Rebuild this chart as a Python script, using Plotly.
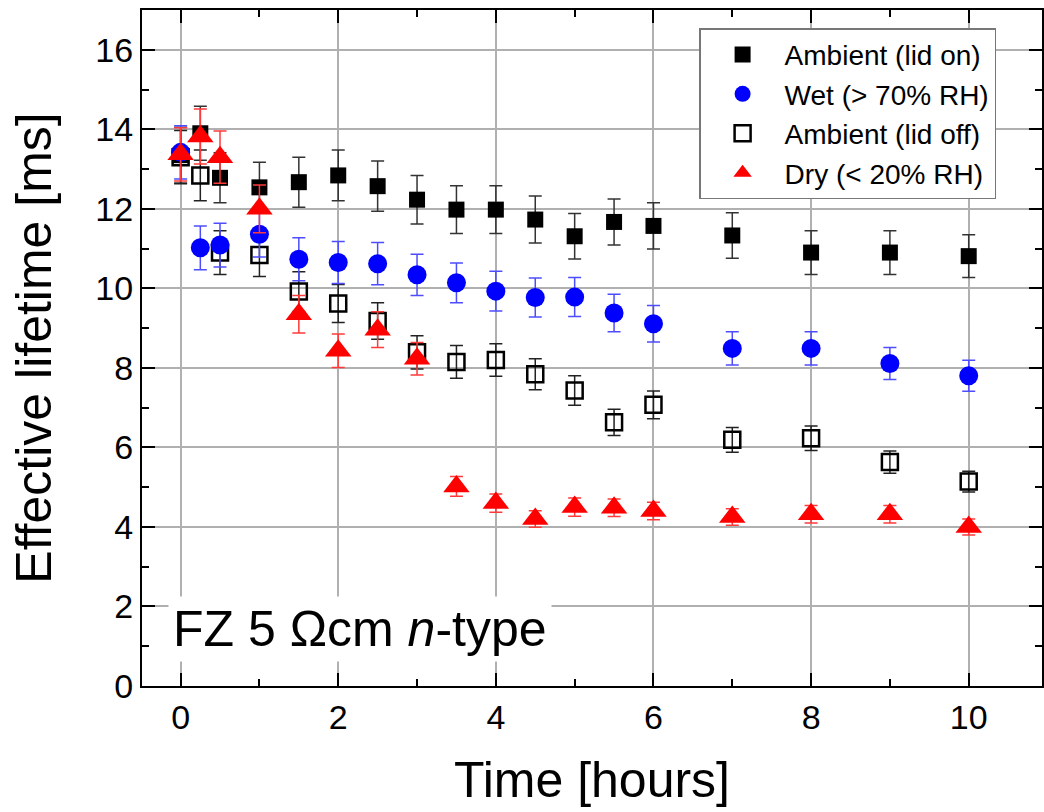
import plotly.graph_objects as go

# Time points (hours)
time_h = [0, 0.25, 0.5, 1, 1.5, 2, 2.5, 3, 3.5, 4, 4.5, 5, 5.5, 6, 7, 8, 9, 10]

# Effective lifetime (ms) and uncertainties for each storage condition
lid_on = [13.35, 13.9, 12.78, 12.54, 12.67, 12.84, 12.57, 12.23, 11.98, 11.98,
          11.73, 11.31, 11.67, 11.57, 11.33, 10.9, 10.9, 10.81]
lid_on_err = [0.7, 0.68, 0.63, 0.63, 0.63, 0.64, 0.63, 0.61, 0.6, 0.6,
              0.59, 0.57, 0.58, 0.58, 0.57, 0.55, 0.55, 0.54]

wet = [13.42, 11.02, 11.09, 11.36, 10.73, 10.65, 10.62, 10.34, 10.14, 9.93,
       9.77, 9.78, 9.38, 9.11, 8.49, 8.49, 8.11, 7.8]
wet_err = [0.67, 0.55, 0.55, 0.57, 0.54, 0.53, 0.53, 0.52, 0.5, 0.5,
           0.49, 0.49, 0.47, 0.46, 0.42, 0.42, 0.4, 0.39]

lid_off = [13.3, 12.84, 10.9, 10.84, 9.92, 9.62, 9.18, 8.39, 8.15, 8.2,
           7.84, 7.43, 6.63, 7.07, 6.19, 6.23, 5.63, 5.14]
lid_off_err = [0.67, 0.64, 0.55, 0.54, 0.5, 0.48, 0.46, 0.42, 0.41, 0.41,
               0.39, 0.37, 0.33, 0.35, 0.31, 0.31, 0.28, 0.26]

dry = [13.37, 13.82, 13.3, 12.0, 9.35, 8.43, 8.96, 8.23, 5.02, 4.6,
       4.2, 4.5, 4.48, 4.4, 4.25, 4.32, 4.32, 4.0]
dry_err = [0.67, 0.69, 0.66, 0.6, 0.47, 0.42, 0.45, 0.41, 0.25, 0.23,
           0.21, 0.23, 0.22, 0.22, 0.21, 0.22, 0.22, 0.2]

FONT = "Arial, Liberation Sans, Helvetica, sans-serif"

fig = go.Figure()


def add_series(name, y, err, symbol, size, fill, line_color, bar_color, rank, line_w=0):
    fig.add_trace(go.Scatter(
        x=time_h, y=y, name=name, mode="markers",
        marker=dict(symbol=symbol, size=size, color=fill,
                    line=dict(color=line_color, width=line_w)),
        error_y=dict(type="data", array=err, visible=True,
                     color=bar_color, thickness=1.5, width=6.5),
        legendrank=rank,
    ))


add_series("Ambient (lid on)", lid_on, lid_on_err, "square", 16,
           "black", "black", "#333333", 1)
add_series("Ambient (lid off)", lid_off, lid_off_err, "square-open", 16,
           "black", "black", "#222222", 3, line_w=2.5)
add_series("Wet (> 70% RH)", wet, wet_err, "circle", 19,
           "#0000ff", "#0000ff", "#4d4dff", 2)
add_series("Dry (< 20% RH)", dry, dry_err, "triangle-up", 23,
           "#ff0000", "#ff0000", "#ff3a3a", 4)

axis_common = dict(
    showline=True, linecolor="black", linewidth=2, mirror="ticks",
    ticks="inside", ticklen=13, tickwidth=2, tickcolor="black",
    showgrid=True, gridcolor="#b0b0b0", gridwidth=1.5,
    zeroline=False,
    tickfont=dict(family=FONT, size=34, color="black"),
)

fig.update_xaxes(
    range=[-0.49, 10.93], tickmode="linear", tick0=0, dtick=2,
    minor=dict(dtick=1, tick0=0, ticks="inside", ticklen=7, tickwidth=2,
               tickcolor="black", showgrid=False),
    title=dict(text="Time [hours]", font=dict(family=FONT, size=50, color="black"),
               standoff=27),
    **axis_common,
)
fig.update_yaxes(
    range=[0, 17], tickmode="linear", tick0=0, dtick=2,
    minor=dict(dtick=1, tick0=0, ticks="inside", ticklen=7, tickwidth=2,
               tickcolor="black", showgrid=False),
    title=dict(text="Effective lifetime [ms]", font=dict(family=FONT, size=50, color="black"),
               standoff=28),
    **axis_common,
)

fig.add_annotation(
    x=2.28, y=1.43, xref="x", yref="y",
    text="FZ 5 \u03a9cm <i>n</i>-type", showarrow=False,
    font=dict(family=FONT, size=50, color="black"),
    bgcolor="white", borderpad=4, xanchor="center", yanchor="middle",
)

fig.update_layout(
    width=1044, height=812,
    margin=dict(l=142, r=0, t=10, b=126),
    paper_bgcolor="white", plot_bgcolor="white",
    showlegend=True,
    legend=dict(
        x=0.619, y=0.973, xanchor="left", yanchor="top",
        font=dict(family=FONT, size=28, color="black"),
        bgcolor="white", bordercolor="#777777", borderwidth=1.5,
        tracegroupgap=0, itemwidth=74,
    ),
)

fig.write_html("out.html")
